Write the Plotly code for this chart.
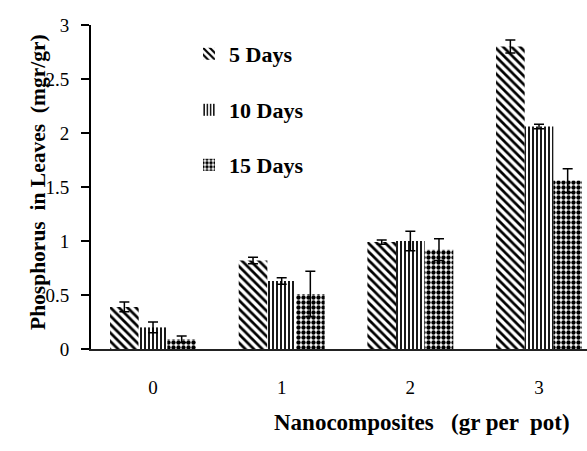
import plotly.graph_objects as go

categories = [0, 1, 2, 3]
tick_labels = ["0", "1", "2", "3"]
series_names = ["5 Days", "10 Days", "15 Days"]
days5 = [0.39, 0.82, 0.99, 2.80]
days5_err = [0.045, 0.03, 0.02, 0.06]
days10 = [0.20, 0.63, 1.00, 2.06]
days10_err = [0.05, 0.03, 0.09, 0.02]
days15 = [0.09, 0.51, 0.92, 1.56]
days15_err = [0.03, 0.21, 0.10, 0.11]
y_ticks = [0, 0.5, 1, 1.5, 2, 2.5, 3]
y_tick_labels = ["0", "0.5", "1", "1.5", "2", "2.5", "3"]

W, H = 587, 451
L, R, T, B = 91, 0, 25, 102
pw = W - L - R
ph = H - T - B

def px_x(p):
    return (p - L) / pw

def px_y(p):
    return (H - B - p) / ph

FONT = "Liberation Serif, Tinos, Times New Roman, DejaVu Serif, serif"
shapes = ["\\", "|", "."]
sizes = [6, 4, 5]
solid = [0.45, 0.45, 0.6]
vals = [days5, days10, days15]
errs = [days5_err, days10_err, days15_err]
legends = ["legend", "legend2", "legend3"]

fig = go.Figure()
for i in range(3):
    fig.add_trace(go.Bar(
        x=categories, y=vals[i], name="<b>" + series_names[i] + "</b>",
        legend=legends[i],
        marker=dict(color="white", line=dict(width=0),
                    pattern=dict(shape=shapes[i], fgcolor="black", bgcolor="white",
                                 size=sizes[i], solidity=solid[i], fillmode="replace")),
        error_y=dict(type="data", array=errs[i], color="black", thickness=1.5, width=5),
    ))

leg_font = dict(family=FONT, size=22, color="black")
leg_y = [54, 110, 165]
legs = {}
for i, name in enumerate(legends):
    legs[name] = dict(x=px_x(189), y=px_y(leg_y[i]), xanchor="left", yanchor="middle",
                      font=leg_font, bgcolor="rgba(0,0,0,0)", borderwidth=0)

fig.update_layout(
    width=W, height=H,
    margin=dict(l=L, r=R, t=T, b=B),
    paper_bgcolor="white", plot_bgcolor="white",
    barmode="group", bargap=0.332, bargroupgap=0,
    font=dict(family=FONT, color="black"),
    showlegend=True,
    **legs,
    xaxis=dict(range=[-0.482, 3.373], tickvals=categories, ticktext=tick_labels,
               showgrid=False, zeroline=False, showline=True, linecolor="#222",
               linewidth=2, ticks="", tickfont=dict(family=FONT, size=19, color="black"),
               ticklabelstandoff=20),
    yaxis=dict(range=[0, 3], tickvals=y_ticks, ticktext=y_tick_labels,
               showgrid=False, zeroline=False, showline=True, linecolor="black",
               linewidth=2, ticks="outside", ticklen=8, tickwidth=1.5, tickcolor="black",
               tickfont=dict(family=FONT, size=19, color="black"),
               ticklabelstandoff=8),
    annotations=[
        dict(text="<b>Phosphorus  in Leaves  (mgr/gr)</b>", textangle=-90,
             x=px_x(38), y=px_y(182), xref="paper", yref="paper",
             xanchor="center", yanchor="middle", showarrow=False,
             font=dict(family=FONT, size=21.5, color="black")),
        dict(text="<b>Nanocomposites   (gr per  pot)</b>",
             x=px_x(422), y=px_y(423), xref="paper", yref="paper",
             xanchor="center", yanchor="middle", showarrow=False,
             font=dict(family=FONT, size=23, color="black")),
    ],
)
fig.write_html("out.html")
